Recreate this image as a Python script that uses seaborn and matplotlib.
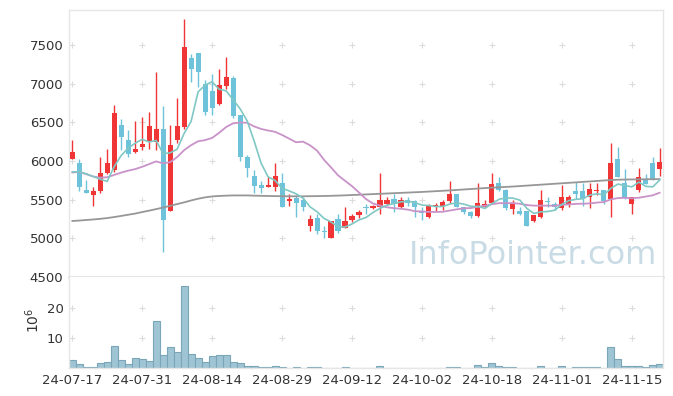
import numpy as np
import pandas as pd
import matplotlib
matplotlib.use("Agg")
import matplotlib.pyplot as plt
import matplotlib.ticker as mticker
import seaborn as sns

# ---------------- data ----------------
holidays = ["2024-08-15", "2024-09-16", "2024-09-17", "2024-09-18",
            "2024-10-01", "2024-10-03", "2024-10-09"]
dates = pd.bdate_range("2024-07-17", "2024-11-21", freq="C", holidays=holidays)

opens = [6020, 5970, 5620, 5560, 5610, 5840, 5880, 6460, 6270, 6120, 6180, 6250, 6240, 6410, 5350,
         6270, 6440, 7330, 7400, 7000, 6900, 6740, 6970, 7080, 6590, 6050, 5800, 5690, 5660, 5670,
         5710, 5480, 5520, 5490, 5160, 5260, 5100, 5000, 5250, 5140, 5240, 5300, 5400, 5390, 5400,
         5440, 5510, 5400, 5500, 5480, 5350, 5280, 5410, 5420, 5480, 5570, 5400, 5340, 5290, 5400,
         5460, 5710, 5620, 5380, 5360, 5350, 5220, 5270, 5480, 5450, 5390, 5450, 5610, 5610, 5540,
         5610, 5620, 5510, 6020, 5710, 5450, 5620, 5760, 5980, 5900]
closes = [6120, 5670, 5590, 5610, 5840, 5970, 6620, 6310, 6090, 6160, 6220, 6450, 6410, 5240, 6210,
          6450, 7470, 7190, 7150, 6640, 6680, 6980, 7090, 6580, 6050, 5910, 5680, 5650, 5690, 5810,
          5410, 5510, 5460, 5410, 5250, 5090, 5080, 5230, 5100, 5230, 5290, 5340, 5390, 5420, 5500,
          5490, 5450, 5500, 5460, 5410, 5330, 5420, 5430, 5470, 5570, 5400, 5340, 5290, 5460, 5450,
          5700, 5620, 5390, 5440, 5320, 5160, 5300, 5490, 5470, 5400, 5540, 5540, 5570, 5510, 5640,
          5620, 5480, 5980, 5790, 5540, 5540, 5790, 5700, 5760, 5990]
highs = [6270, 6020, 5750, 5670, 6050, 6150, 6720, 6540, 6400, 6520, 6570, 6640, 7150, 6710, 6460,
         6810, 7840, 7390, 7400, 7050, 7120, 7190, 7340, 7100, 6590, 6080, 5890, 5740, 5790, 5970,
         5840, 5570, 5560, 5540, 5300, 5320, 5160, 5230, 5320, 5400, 5320, 5370, 5450, 5430, 5840,
         5540, 5570, 5540, 5530, 5490, 5400, 5440, 5460, 5490, 5740, 5570, 5410, 5360, 5720, 5490,
         5840, 5790, 5640, 5490, 5410, 5350, 5300, 5620, 5540, 5470, 5690, 5560, 5730, 5710, 5710,
         5710, 5620, 6230, 6180, 5900, 5540, 5910, 5830, 6050, 6170]
lows = [6020, 5610, 5590, 5420, 5590, 5830, 5860, 6140, 6050, 6110, 6140, 6160, 6140, 4820, 5350,
        6230, 6420, 7020, 6960, 6590, 6590, 6720, 6930, 6550, 6000, 5790, 5590, 5580, 5660, 5610,
        5410, 5420, 5280, 5350, 5100, 5060, 5010, 5000, 5070, 5130, 5210, 5260, 5320, 5380, 5320,
        5430, 5340, 5390, 5420, 5280, 5240, 5260, 5360, 5370, 5460, 5400, 5310, 5260, 5280, 5390,
        5450, 5610, 5370, 5320, 5300, 5160, 5210, 5260, 5410, 5370, 5370, 5400, 5510, 5420, 5390,
        5560, 5450, 5280, 5790, 5510, 5320, 5600, 5700, 5760, 5800]
volumes_m = [2.7, 1.3, 0.3, 0.3, 1.7, 2.0, 7.3, 2.7, 1.3, 3.3, 3.0, 2.3, 15.7, 4.3, 7.0,
             5.3, 27.0, 4.6, 3.3, 2.0, 4.0, 4.3, 4.3, 2.0, 1.7, 0.7, 0.7, 0.3, 0.3, 0.7,
             0.3, 0.1, 0.3, 0.1, 0.3, 0.3, 0.1, 0.1, 0.1, 0.3, 0.1, 0.1, 0.1, 0.1, 0.7,
             0.1, 0.1, 0.1, 0.1, 0.1, 0.1, 0.1, 0.1, 0.1, 0.3, 0.3, 0.1, 0.1, 1.0, 0.3,
             1.7, 0.7, 0.4, 0.3, 0.1, 0.1, 0.1, 0.7, 0.1, 0.1, 0.7, 0.1, 0.3, 0.3, 0.3,
             0.3, 0.1, 7.0, 3.0, 0.7, 0.7, 0.7, 0.3, 1.0, 1.3]
# moving-average values at the start of the window (they need days before the first one)
ma5_head = [5860, 5860, 5835, 5800]
ma20_head = [5851, 5859, 5830, 5800, 5785, 5790, 5820, 5850, 5875, 5895, 5925, 5960, 5995,
             5970, 5985, 6050, 6140, 6205, 6255]
ma60 = [5224, 5230, 5237, 5244, 5252, 5262, 5275, 5290, 5305, 5320, 5340, 5358, 5378, 5398, 5420,
        5443, 5465, 5490, 5512, 5530, 5542, 5548, 5552, 5555, 5555, 5555, 5552, 5550, 5548, 5546,
        5545, 5544, 5544, 5544, 5545, 5546, 5548, 5550, 5553, 5556, 5560, 5564, 5568, 5572, 5576,
        5580, 5584, 5588, 5592, 5596, 5600, 5605, 5610, 5615, 5620, 5626, 5632, 5638, 5644, 5650,
        5655, 5660, 5665, 5670, 5676, 5682, 5688, 5694, 5700, 5706, 5712, 5718, 5724, 5730, 5736,
        5742, 5748, 5754, 5758, 5760, 5762, 5763, 5764, 5765, 5766]
tick_idx = [0, 10, 20, 30, 40, 50, 60, 70, 80]
price_ticks = [4500, 5000, 5500, 6000, 6500, 7000, 7500]
vol_ticks = [10, 20]

df = pd.DataFrame({"date": dates, "open": opens, "high": highs, "low": lows,
                   "close": closes, "vol": volumes_m})
df["i"] = np.arange(len(df))
cs = df["close"]
ma5 = cs.rolling(5).mean().to_numpy()
ma5[:4] = ma5_head
ma20 = cs.rolling(20).mean().to_numpy()
ma20[:19] = ma20_head
df["ma5"], df["ma20"], df["ma60"] = ma5, ma20, ma60

# ---------------- style ----------------
sns.set_theme(style="white")
plt.rcParams["font.family"] = ["DejaVu Sans"]
plt.rcParams["mathtext.fontset"] = "dejavusans"
TXT = "#333333"
RED, BLUE = "#ef3535", "#6ec2da"
BORDER = "#e6e6e6"

W, H = 673, 396
fig = plt.figure(figsize=(W / 100, H / 100), dpi=100)
L, R = 69 / W, 663 / W
axp = fig.add_axes([L, 1 - 277 / H, R - L, (277 - 10) / H])
axv = fig.add_axes([L, 1 - 368 / H, R - L, (368 - 277) / H])
xlim = (-0.45, len(df) - 0.55)

# ---- candles ----
up = df["close"] >= df["open"]
colors = np.where(up, RED, BLUE)
axp.vlines(df["i"], df["low"], df["high"], colors=colors, linewidth=1.0, zorder=2)
body_lo = np.minimum(df["open"], df["close"])
body_h = np.maximum(np.abs(df["close"] - df["open"]), 12)
axp.bar(df["i"], body_h, bottom=body_lo, width=0.72, color=colors, linewidth=0, zorder=3)

# ---- moving averages ----
sns.lineplot(data=df, x="i", y="ma60", ax=axp, color="#979797", linewidth=1.3, zorder=4)
sns.lineplot(data=df, x="i", y="ma20", ax=axp, color="#c992c8", linewidth=1.3, zorder=4)
sns.lineplot(data=df, x="i", y="ma5", ax=axp, color="#80c8c4", linewidth=1.2, zorder=4)

axp.set_xlim(*xlim)
axp.set_ylim(4500, 7953)
axp.yaxis.set_major_locator(mticker.FixedLocator(price_ticks))
axp.yaxis.set_major_formatter(mticker.FixedFormatter([str(v) for v in price_ticks]))
axp.set_xticks(tick_idx)
axp.set_xticklabels([])
axp.set_xlabel("")
axp.set_ylabel("")
axp.tick_params(axis="both", length=0, labelsize=9.5, labelcolor=TXT, pad=4)
for s in ["top", "left", "right"]:
    axp.spines[s].set_color(BORDER)
    axp.spines[s].set_linewidth(1.0)
axp.spines["bottom"].set_color("#dddddd")
axp.spines["bottom"].set_linewidth(1.8)
gx, gy = np.meshgrid(tick_idx, price_ticks[1:])
axp.plot(gx.ravel(), gy.ravel(), linestyle="none", marker="+", markersize=4.5,
         mew=0.8, color="#dcdcdc", zorder=1)
axp.text(0.99, 0.022, "InfoPointer.com", transform=axp.transAxes, ha="right", va="bottom",
         fontsize=23, color="#c9dce6", zorder=0)

# ---- volume ----
sns.barplot(data=df, x="i", y="vol", ax=axv, native_scale=True, color="#9fc4d3",
            saturation=1, width=1.0, edgecolor="#7ba6b9", linewidth=0.8, zorder=2)
axv.set_xlim(*xlim)
axv.set_ylim(0, 30.1)
axv.yaxis.set_major_locator(mticker.FixedLocator(vol_ticks))
axv.yaxis.set_major_formatter(mticker.FixedFormatter([str(v) for v in vol_ticks]))
axv.set_xticks(tick_idx)
axv.set_xticklabels([df["date"][k].strftime("%y-%m-%d") for k in tick_idx])
axv.set_xlabel("")
axv.set_ylabel("")
axv.tick_params(axis="both", length=0, labelsize=9.5, labelcolor=TXT, pad=4)
axv.spines["top"].set_visible(False)
for s in ["left", "right", "bottom"]:
    axv.spines[s].set_color(BORDER)
    axv.spines[s].set_linewidth(1.0)
vx, vy = np.meshgrid(tick_idx, vol_ticks)
axv.plot(vx.ravel(), vy.ravel(), linestyle="none", marker="+", markersize=4.5,
         mew=0.8, color="#dcdcdc", zorder=1)
fig.text(33 / W, 1 - 320 / H, r"$10^6$", rotation=90, ha="center", va="center",
         fontsize=10, color=TXT)

fig.savefig("out.png", dpi=100)
